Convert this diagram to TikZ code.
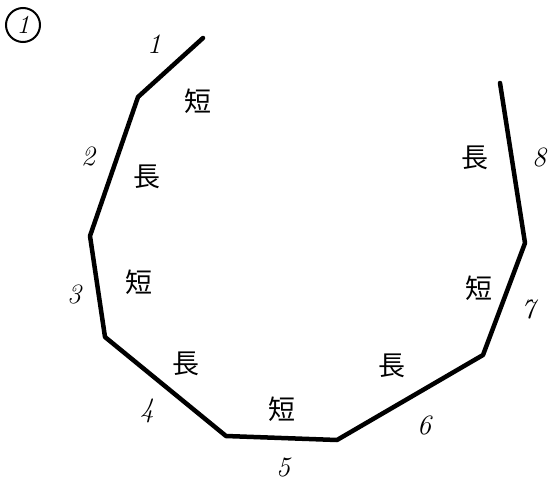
\documentclass[tikz,border=0pt]{standalone}
\usepackage{fontspec}
\newfontfamily\cjk{Noto Sans CJK JP}
\begin{document}
\begin{tikzpicture}[x=1pt,y=-1pt,
  edge/.style={line width=4.5pt,line join=round,line cap=round,black},
  kanji/.style={font=\cjk\fontsize{27}{27}\selectfont,inner sep=0pt},
  num/.style={font=\itshape\fontsize{28}{28}\selectfont,inner sep=0pt}]
\useasboundingbox (0,0) rectangle (548,484);
\coordinate (p0) at (203,38);
\coordinate (p1) at (138,97);
\coordinate (p2) at (90,236);
\coordinate (p3) at (105,337);
\coordinate (p4) at (226,436);
\coordinate (p5) at (337,440);
\coordinate (p6) at (483,355);
\coordinate (p7) at (525,243);
\coordinate (p8) at (500,83);
\draw[edge] (p0) -- (p1) -- (p2) -- (p3) -- (p4) -- (p5) -- (p6) -- (p7) -- (p8);
\node[circle,draw,line width=2pt,minimum size=34pt,inner sep=0pt,font=\itshape\fontsize{26}{26}\selectfont] (c1) at (23,25) {1};
\node[num] (n1) at (154,44) {1};
\node[kanji] (k1) at (198,101) {短};
\node[num] (n2) at (88,156) {2};
\node[kanji] (k2) at (147,177) {長};
\node[num] (n3) at (74,294) {3};
\node[kanji] (k3) at (139,282) {短};
\node[kanji] (k4) at (186,364) {長};
\node[num] (n4) at (147,411) {4};
\node[kanji] (k5) at (282,409) {短};
\node[num] (n5) at (283,467) {5};
\node[kanji] (k6) at (392,366) {長};
\node[num] (n6) at (424,425) {6};
\node[kanji] (k7) at (479,288) {短};
\node[num] (n7) at (528,309) {7};
\node[kanji] (k8) at (475,158) {長};
\node[num] (n8) at (539,157) {8};
\end{tikzpicture}
\end{document}
